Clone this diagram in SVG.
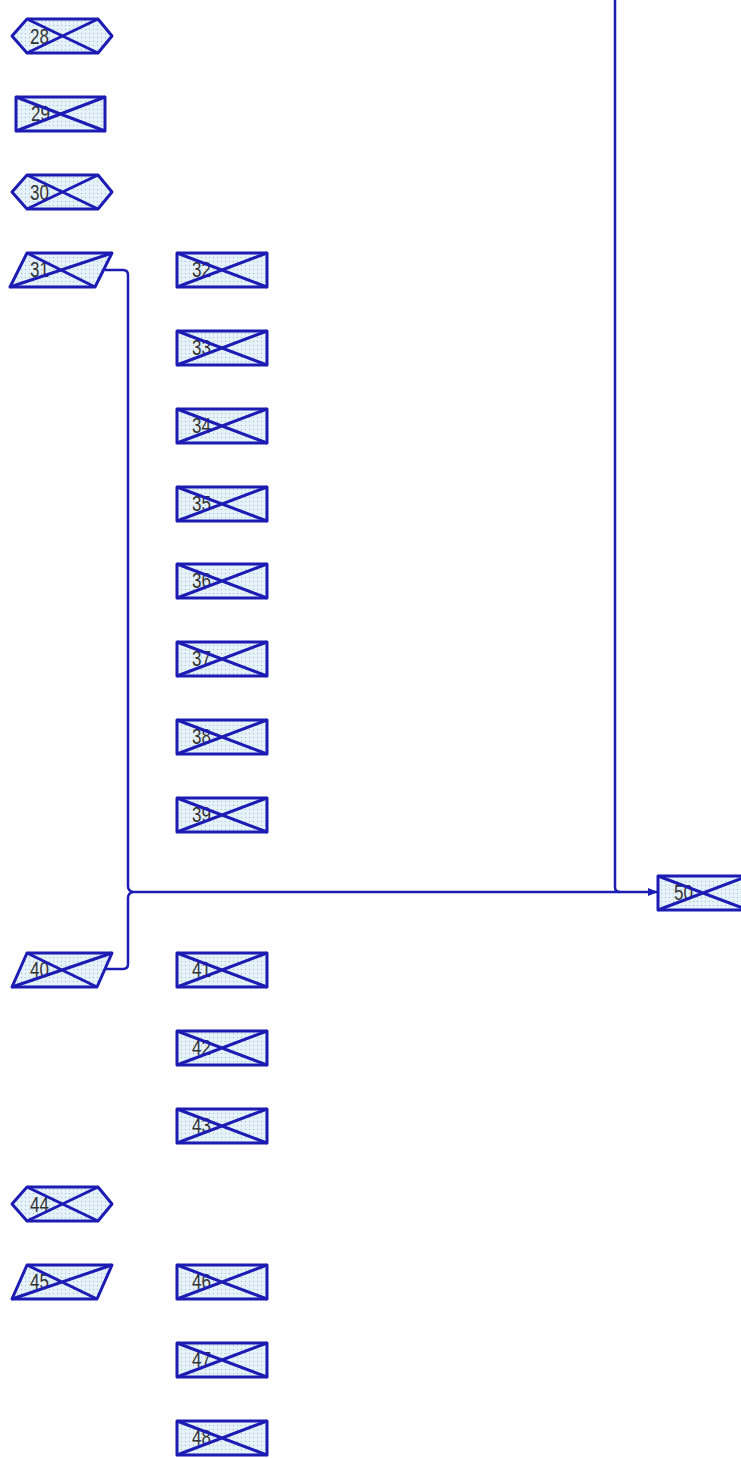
<svg xmlns="http://www.w3.org/2000/svg" width="741" height="1458" viewBox="0 0 741 1458">
<defs>
<pattern id="dots" width="4" height="4" patternUnits="userSpaceOnUse">
<rect width="4" height="4" fill="#e6f2fa"/>
<rect x="1" y="1" width="1" height="1" fill="#98b8d0"/>
</pattern>
<marker id="arr" viewBox="0 0 10 10" refX="9" refY="5" markerWidth="10" markerHeight="10" orient="auto" markerUnits="userSpaceOnUse">
<path d="M0,1 L10,5 L0,9 Z" fill="#1c1cb4"/>
</marker>
</defs>
<style>
.s{fill:url(#dots);stroke:#1c1cb4;stroke-width:3;stroke-linejoin:round}
.x{fill:none;stroke:#1c1cb4;stroke-width:3}
.t{font-family:"Liberation Sans",Arial,sans-serif;font-size:17px;fill:#333}
.c{fill:none;stroke:#1c1cb4;stroke-width:2.5}
</style>
<rect width="741" height="1458" fill="#ffffff"/>

<g id="connectors">
<path class="c" d="M615,0 V887 Q615,892 620,892"/>
<path class="c" d="M105,270 H123 Q128,270 128,275 V886 Q128,891 133,892"/>
<path class="c" d="M105,969 H123 Q128,969 128,964 V898 Q128,893 133,892"/>
<path class="c" d="M133,892 H657" marker-end="url(#arr)"/>
</g>

<g id="n28"><path class="s" d="M12,36 L27,19 L98,19 L112,36 L98,53 L27,53 Z"/><text class="t" transform="matrix(1,0,0,1.3,30,43.5)">28</text><path class="x" d="M27,19 L98,53 M27,53 L98,19"/></g>
<g id="n29"><rect class="s" x="16" y="97" width="89" height="34"/><text class="t" transform="matrix(1,0,0,1.3,31,121)">29</text><path class="x" d="M16,97 L105,131 M16,131 L105,97"/></g>
<g id="n30"><path class="s" d="M12,192 L27,175 L98,175 L112,192 L98,209 L27,209 Z"/><text class="t" transform="matrix(1,0,0,1.3,30,199.5)">30</text><path class="x" d="M27,175 L98,209 M27,209 L98,175"/></g>
<g id="n31"><path class="s" d="M27,253 L112,253 L95,287 L10,287 Z"/><text class="t" transform="matrix(1,0,0,1.3,30,277)">31</text><path class="x" d="M27,253 L95,287 M10,287 L112,253"/></g>

<g id="n32"><rect class="s" x="177" y="253" width="90" height="34"/><text class="t" transform="matrix(1,0,0,1.3,192,277)">32</text><path class="x" d="M177,253 L267,287 M177,287 L267,253"/></g>
<g id="n33"><rect class="s" x="177" y="331" width="90" height="34"/><text class="t" transform="matrix(1,0,0,1.3,192,355)">33</text><path class="x" d="M177,331 L267,365 M177,365 L267,331"/></g>
<g id="n34"><rect class="s" x="177" y="409" width="90" height="34"/><text class="t" transform="matrix(1,0,0,1.3,192,433)">34</text><path class="x" d="M177,409 L267,443 M177,443 L267,409"/></g>
<g id="n35"><rect class="s" x="177" y="487" width="90" height="34"/><text class="t" transform="matrix(1,0,0,1.3,192,511)">35</text><path class="x" d="M177,487 L267,521 M177,521 L267,487"/></g>
<g id="n36"><rect class="s" x="177" y="564" width="90" height="34"/><text class="t" transform="matrix(1,0,0,1.3,192,588)">36</text><path class="x" d="M177,564 L267,598 M177,598 L267,564"/></g>
<g id="n37"><rect class="s" x="177" y="642" width="90" height="34"/><text class="t" transform="matrix(1,0,0,1.3,192,666)">37</text><path class="x" d="M177,642 L267,676 M177,676 L267,642"/></g>
<g id="n38"><rect class="s" x="177" y="720" width="90" height="34"/><text class="t" transform="matrix(1,0,0,1.3,192,744)">38</text><path class="x" d="M177,720 L267,754 M177,754 L267,720"/></g>
<g id="n39"><rect class="s" x="177" y="798" width="90" height="34"/><text class="t" transform="matrix(1,0,0,1.3,192,822)">39</text><path class="x" d="M177,798 L267,832 M177,832 L267,798"/></g>

<g id="n40"><path class="s" d="M27,953 L112,953 L97,987 L12,987 Z"/><text class="t" transform="matrix(1,0,0,1.3,30,977)">40</text><path class="x" d="M27,953 L97,987 M12,987 L112,953"/></g>
<g id="n41"><rect class="s" x="177" y="953" width="90" height="34"/><text class="t" transform="matrix(1,0,0,1.3,192,977)">41</text><path class="x" d="M177,953 L267,987 M177,987 L267,953"/></g>
<g id="n42"><rect class="s" x="177" y="1031" width="90" height="34"/><text class="t" transform="matrix(1,0,0,1.3,192,1055)">42</text><path class="x" d="M177,1031 L267,1065 M177,1065 L267,1031"/></g>
<g id="n43"><rect class="s" x="177" y="1109" width="90" height="34"/><text class="t" transform="matrix(1,0,0,1.3,192,1133)">43</text><path class="x" d="M177,1109 L267,1143 M177,1143 L267,1109"/></g>
<g id="n44"><path class="s" d="M12,1204 L27,1187 L98,1187 L112,1204 L98,1221 L27,1221 Z"/><text class="t" transform="matrix(1,0,0,1.3,30,1211.5)">44</text><path class="x" d="M27,1187 L98,1221 M27,1221 L98,1187"/></g>
<g id="n45"><path class="s" d="M27,1265 L112,1265 L97,1299 L12,1299 Z"/><text class="t" transform="matrix(1,0,0,1.3,30,1289)">45</text><path class="x" d="M27,1265 L97,1299 M12,1299 L112,1265"/></g>
<g id="n46"><rect class="s" x="177" y="1265" width="90" height="34"/><text class="t" transform="matrix(1,0,0,1.3,192,1289)">46</text><path class="x" d="M177,1265 L267,1299 M177,1299 L267,1265"/></g>
<g id="n47"><rect class="s" x="177" y="1343" width="90" height="34"/><text class="t" transform="matrix(1,0,0,1.3,192,1367)">47</text><path class="x" d="M177,1343 L267,1377 M177,1377 L267,1343"/></g>
<g id="n48"><rect class="s" x="177" y="1421" width="90" height="34"/><text class="t" transform="matrix(1,0,0,1.3,192,1445)">48</text><path class="x" d="M177,1421 L267,1455 M177,1455 L267,1421"/></g>

<g id="n50"><rect class="s" x="658" y="876" width="90" height="34"/><text class="t" transform="matrix(1,0,0,1.3,674,899.5)">50</text><path class="x" d="M658,876 L748,910 M658,910 L748,876"/></g>
</svg>
